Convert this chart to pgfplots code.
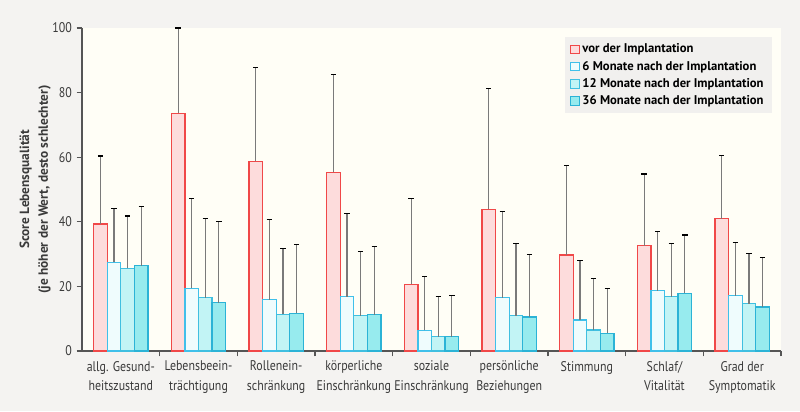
\documentclass[border=0pt]{standalone}
\usepackage{pgfplots}
\usepackage{pgfplotstable}
\pgfplotsset{compat=1.18}
\usepackage{fontspec}
\setmainfont{PT Sans}
\newfontfamily\condfont{PT Sans}[FakeStretch=0.85]

\definecolor{outerbg}{HTML}{F4F3F1}
\definecolor{plotbg}{HTML}{FFFEF6}
\definecolor{legbg}{HTML}{F1F0EE}
\definecolor{axiscol}{HTML}{555555}
\definecolor{txtcol}{HTML}{3A3A3A}
\definecolor{redline}{HTML}{F04848}
\definecolor{redfill}{HTML}{FDDCDC}
\definecolor{blAline}{HTML}{40C0EA}
\definecolor{blAfill}{HTML}{EFFCFD}
\definecolor{blBline}{HTML}{40BFE0}
\definecolor{blBfill}{HTML}{C2F4F5}
\definecolor{blCline}{HTML}{2BB3D6}
\definecolor{blCfill}{HTML}{97EBEE}
\definecolor{errcol}{HTML}{7A7A7A}

% x = category, y = mean, e = upper error (one-sided)
\pgfplotstableread{
x y e
0 39.3 21.1
1 73.6 26.4
2 58.7 29.1
3 55.3 30.2
4 20.6 26.5
5 43.9 37.3
6 29.7 27.8
7 32.6 22.2
8 41.0 19.5
}\vor
\pgfplotstableread{
x y e
0 27.4 16.8
1 19.4 27.7
2 15.9 24.9
3 16.8 25.7
4 6.4 16.6
5 16.5 26.8
6 9.6 18.4
7 18.7 18.2
8 17.1 16.4
}\sechs
\pgfplotstableread{
x y e
0 25.6 16.2
1 16.5 24.5
2 11.4 20.4
3 10.9 20.0
4 4.4 12.4
5 10.9 22.3
6 6.5 15.9
7 16.8 16.4
8 14.7 15.4
}\zwoelf
\pgfplotstableread{
x y e
0 26.4 18.3
1 15.0 25.0
2 11.7 21.3
3 11.2 21.1
4 4.4 12.8
5 10.5 19.5
6 5.5 13.8
7 17.9 18.0
8 13.6 15.4
}\sechsdreissig

\begin{document}
\begin{tikzpicture}
\fill[outerbg] (-61.5pt,-45pt) rectangle (538.5pt,263.25pt);
\begin{axis}[
  at={(0,0)}, anchor=south west,
  scale only axis,
  width=524.25pt, height=242.25pt,
  axis background/.style={fill=plotbg},
  xmin=-0.5, xmax=8.5,
  ymin=0, ymax=100,
  axis x line*=bottom, axis y line*=left,
  axis line style={-, draw=axiscol, line width=0.9pt},
  ytick={0,20,...,100},
  xtick={0,...,8},
  xticklabels={{allg. Gesund-\\heitszustand},{Lebensbeein-\\trächtigung},{Rollenein-\\schränkung},{körperliche\\Einschränkung},{soziale\\Einschränkung},{persönliche\\Beziehungen},{Stimmung},{Schlaf/\\Vitalität},{Grad der\\Symptomatik}},
  minor xtick={0.5,1.5,...,8.5},
  tick align=outside,
  major tick length=4pt,
  minor tick length=4pt,
  major x tick style={draw=none},
  minor x tick style={draw=axiscol, line width=0.9pt},
  major y tick style={draw=axiscol, line width=0.9pt},
  /pgf/number format/assume math mode=true,
  yticklabel style={font=\condfont\fontsize{10.5}{12}\selectfont, text=txtcol},
  xticklabel style={align=center, font=\condfont\fontsize{10.5}{14.5}\selectfont, text=txtcol},
  ylabel={Score Lebensqualität\\(je höher der Wert, desto schlechter)},
  ylabel style={at={(axis description cs:-0.067,0.5)}, anchor=center, align=center,
    font=\bfseries\fontsize{10}{14}\selectfont, text=txtcol},
  ybar=0pt,
  bar width=0.175,
  error bars/y dir=plus,
  error bars/y explicit,
  error bars/error bar style={errcol, line width=0.9pt},
  error bars/error mark options={black, line width=0.9pt, mark size=2pt, rotate=90},
  legend cell align=left,
  legend style={at={(0.987,0.972)}, anchor=north east, fill=legbg, draw=none,
    font=\bfseries\fontsize{9.5}{11.5}\selectfont, text=black,
    inner xsep=4pt, inner ysep=3pt, row sep=0.6pt},
  legend image code/.code={\draw[#1, line width=0.8pt] (0pt,-3.2pt) rectangle (6.4pt,3.2pt);},
]
\addplot[draw=redline, fill=redfill, line width=0.9pt] table[x=x, y=y, y error=e] {\vor};
\addlegendentry{vor der Implantation}
\addplot[draw=blAline, fill=blAfill, line width=0.9pt] table[x=x, y=y, y error=e] {\sechs};
\addlegendentry{6 Monate nach der Implantation}
\addplot[draw=blBline, fill=blBfill, line width=0.9pt] table[x=x, y=y, y error=e] {\zwoelf};
\addlegendentry{12 Monate nach der Implantation}
\addplot[draw=blCline, fill=blCfill, line width=0.9pt] table[x=x, y=y, y error=e] {\sechsdreissig};
\addlegendentry{36 Monate nach der Implantation}
\end{axis}
\end{tikzpicture}
\end{document}
